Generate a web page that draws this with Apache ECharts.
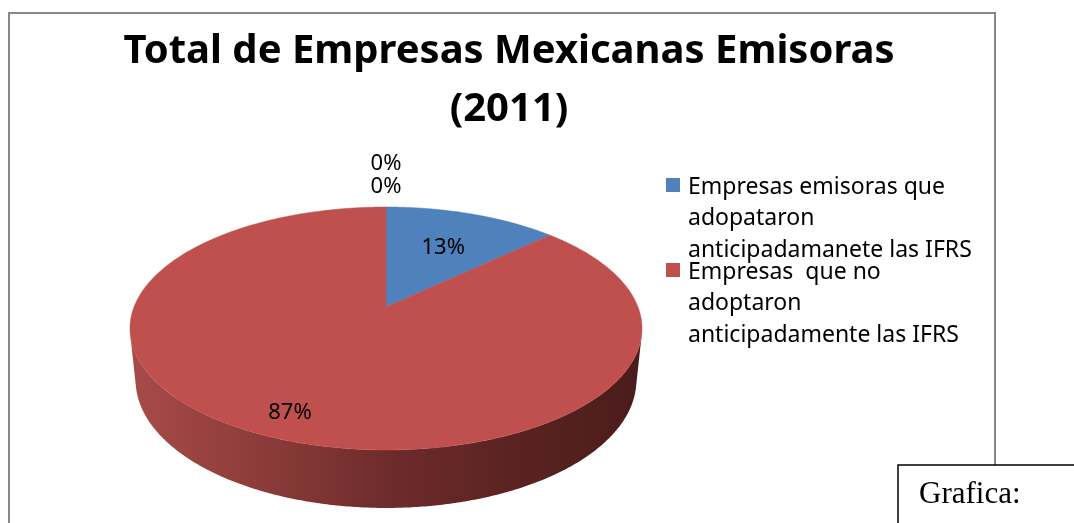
<!DOCTYPE html>
<html>
<head>
<meta charset="utf-8">
<title>Total de Empresas Mexicanas Emisoras (2011)</title>
<script src="https://cdn.jsdelivr.net/npm/echarts@6/dist/echarts.min.js"></script>
<style>
  html, body { margin: 0; padding: 0; background: #ffffff; }
  #chart { width: 1074px; height: 523px; }
</style>
</head>
<body>
<div id="chart"></div>
<script>
// Chart content
const chartTitle = 'Total de Empresas Mexicanas Emisoras\n(2011)';
const categories = [
  'Empresas emisoras que\nadopataron\nanticipadamanete las IFRS',
  'Empresas  que no\nadoptaron\nanticipadamente las IFRS',
  '',
  ''
];
const shares = [13, 87, 0, 0];
const sliceColors = ['#4f81bd', '#c0504d', '#9bbb59', '#8064a2'];
const captionText = 'Grafica:';

// Label distance from the centre (fraction of the radius) for non-empty slices
const labelRadius = [0.63, 0.83];

// Perspective camera for the tilted 3D disc
const cam = { cx: 386, cy: 307, f: 1260, d: 5, sinA: 0.467, cosA: 0.884, h: 0.234 };

function project(X, Y, Z) {
  const depth = cam.d - Y * cam.cosA - Z * cam.sinA;
  return [cam.cx + cam.f * X / depth, cam.cy + cam.f * (Y * cam.sinA - Z * cam.cosA) / depth];
}
// angle measured clockwise from 12 o'clock; r = fraction of radius; z = height
function rim(theta, r, z) {
  return project(r * Math.sin(theta), -r * Math.cos(theta), z);
}

const total = shares.reduce((a, b) => a + b, 0);
const startAngles = [];
shares.reduce((acc, v, i) => { startAngles[i] = acc / total * Math.PI * 2; return acc + v; }, 0);

// visible part of the outer wall (between the two silhouette tangents)
const phi = Math.acos(1 / (cam.d * cam.cosA));
const wallFrom = Math.PI - phi, wallTo = Math.PI + phi;
const wallLeft = rim(wallTo, 1, 0)[0], wallRight = rim(wallFrom, 1, 0)[0];

const wallGradient = {
  type: 'linear', x: wallLeft, y: 0, x2: wallRight, y2: 0, global: true,
  colorStops: [
    { offset: 0, color: '#a84b49' },
    { offset: 0.25, color: '#8c3c3a' },
    { offset: 0.5, color: '#6e2c2b' },
    { offset: 0.75, color: '#5a2322' },
    { offset: 1, color: '#4a1c1b' }
  ]
};

function arcPoints(a0, a1, r, z) {
  const pts = [];
  const steps = Math.max(2, Math.ceil((a1 - a0) / (Math.PI / 360)));
  for (let k = 0; k <= steps; k++) pts.push(rim(a0 + (a1 - a0) * k / steps, r, z));
  return pts;
}

function renderSlice(params, api) {
  const i = params.dataIndex;
  const v = api.value(0);
  const a0 = startAngles[i];
  const a1 = a0 + v / total * Math.PI * 2;
  const pct = Math.round(v / total * 100) + '%';
  const children = [];
  const labelFont = '22px "Noto Sans", "Open Sans", sans-serif';

  if (v > 0) {
    // outer wall
    const s = Math.max(a0, wallFrom), e = Math.min(a1, wallTo);
    if (e > s) {
      const top = arcPoints(s, e, 1, 0);
      const bottom = arcPoints(s, e, 1, -cam.h).reverse();
      children.push({
        type: 'polygon', z2: 1,
        shape: { points: top.concat(bottom) },
        style: { fill: wallGradient, stroke: null }
      });
    }
    // top face
    children.push({
      type: 'polygon', z2: 5,
      shape: { points: [rim(0, 0, 0)].concat(arcPoints(a0, a1, 1, 0)) },
      style: { fill: sliceColors[i], stroke: sliceColors[i], lineWidth: 0.5 }
    });
    const mid = (a0 + a1) / 2;
    const p = rim(mid, labelRadius[i] || 0.7, 0);
    children.push({
      type: 'text', z2: 10,
      style: { text: pct, x: p[0], y: p[1] + 2, align: 'center', verticalAlign: 'middle', font: labelFont, fill: '#000' }
    });
  } else {
    // empty slices: labels stacked above the rim
    let stack = 0;
    for (let j = i + 1; j < shares.length; j++) if (shares[j] === 0) stack++;
    const p = rim(a0, 1, 0);
    children.push({
      type: 'text', z2: 10,
      style: { text: pct, x: p[0], y: p[1] - 20 - 23 * stack, align: 'center', verticalAlign: 'middle', font: labelFont, fill: '#000' }
    });
  }
  return { type: 'group', children };
}

// legend entries (named categories only)
const legendItems = [];
categories.forEach((name, i) => {
  if (!name) return;
  const k = legendItems.length / 2;
  const sy = 178 + k * 85;
  legendItems.push({
    type: 'rect', shape: { x: 666, y: sy, width: 14, height: 14 },
    style: { fill: sliceColors[i] }
  });
  legendItems.push({
    type: 'text',
    style: {
      text: name, x: 688, y: sy + 7 - 15.85 + 2, font: '23px "Noto Sans", "Open Sans", sans-serif',
      lineHeight: 31.7, verticalAlign: 'top', align: 'left', fill: '#000'
    }
  });
});

const chart = echarts.init(document.getElementById('chart'), null, { renderer: 'canvas' });
chart.setOption({
  backgroundColor: '#ffffff',
  animation: false,
  graphic: [
    {
      type: 'rect', z: -1,
      shape: { x: 9, y: 13, width: 986, height: 600 },
      style: { fill: '#ffffff', stroke: '#878787', lineWidth: 2 }
    },
    {
      type: 'text',
      style: {
        text: chartTitle, x: 509, y: 23, align: 'center', verticalAlign: 'top',
        font: 'bold 40px "Noto Sans", "Open Sans", sans-serif', lineHeight: 58, fill: '#000'
      }
    },
    ...legendItems,
    {
      type: 'rect', z: 20,
      shape: { x: 898, y: 465, width: 200, height: 100 },
      style: { fill: '#ffffff', stroke: '#000000', lineWidth: 1.5 }
    },
    {
      type: 'text', z: 21,
      style: {
        text: captionText, x: 919, y: 495, align: 'left', verticalAlign: 'middle',
        font: '31px "Liberation Serif", "DejaVu Serif", serif', fill: '#000'
      }
    }
  ],
  series: [{
    type: 'custom',
    coordinateSystem: 'none',
    data: shares.map((v, i) => ({ name: categories[i], value: [v, i] })),
    renderItem: renderSlice
  }]
});
</script>
</body>
</html>
